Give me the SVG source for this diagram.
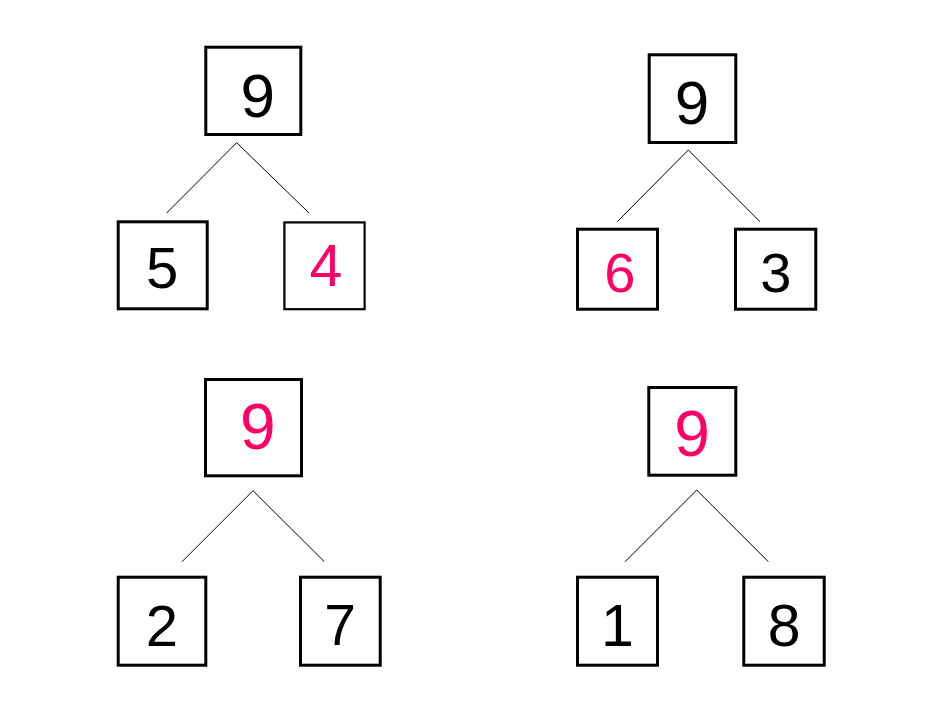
<svg xmlns="http://www.w3.org/2000/svg" width="950" height="713" viewBox="0 0 950 713">
<style>
.box{fill:#fff;stroke:#000;stroke-width:3}
.thin{stroke-width:2.2}
.t{font-family:"Liberation Sans",Arial,sans-serif;text-anchor:middle;fill:#000}
.hl{fill:#ff0066}
.edge{stroke:#000;stroke-width:1;fill:none}
</style>
<rect width="950" height="713" fill="#fff"/>
<g id="connectors">
<line class="edge" x1="236.7" y1="142.7" x2="166.7" y2="213"/>
<line class="edge" x1="236.7" y1="142.7" x2="309" y2="213"/>
<line class="edge" x1="688.3" y1="150" x2="617.3" y2="221.7"/>
<line class="edge" x1="688.3" y1="150" x2="760" y2="221.7"/>
<line class="edge" x1="253" y1="490.7" x2="182" y2="561.7"/>
<line class="edge" x1="253" y1="490.7" x2="324.3" y2="561.7"/>
<line class="edge" x1="696.7" y1="490" x2="625" y2="561.7"/>
<line class="edge" x1="696.7" y1="490" x2="768.3" y2="561.7"/>
</g>
<g id="t1-root"><rect class="box" x="205.8" y="47.2" width="95" height="87.3"/><text class="t" x="257.8" y="116.5" font-size="62">9</text></g>
<g id="t1-left"><rect class="box" x="118.2" y="221.8" width="89" height="87"/><text class="t" x="162.2" y="288" font-size="58">5</text></g>
<g id="t1-right"><rect class="box thin" x="284.4" y="222.4" width="80.2" height="86.8"/><text class="t hl" x="325.8" y="286" font-size="59">4</text></g>
<g id="t2-root"><rect class="box" x="649.2" y="54.8" width="86.6" height="87.7"/><text class="t" x="692" y="123.5" font-size="62">9</text></g>
<g id="t2-left"><rect class="box" x="577.5" y="229.2" width="80" height="80"/><text class="t hl" x="619.8" y="291.5" font-size="56">6</text></g>
<g id="t2-right"><rect class="box" x="735.5" y="229.2" width="80.3" height="80"/><text class="t" x="775.8" y="291.5" font-size="56">3</text></g>
<g id="t3-root"><rect class="box" x="205.5" y="379.5" width="96" height="96.3"/><text class="t hl" x="257.8" y="449" font-size="64">9</text></g>
<g id="t3-left"><rect class="box" x="118.2" y="577.2" width="87.6" height="88"/><text class="t" x="161.8" y="646" font-size="58">2</text></g>
<g id="t3-right"><rect class="box" x="300.5" y="577.2" width="79.7" height="88"/><text class="t" x="340" y="645.3" font-size="57">7</text></g>
<g id="t4-root"><rect class="box" x="648.8" y="387.5" width="87" height="87.7"/><text class="t hl" x="692" y="456" font-size="64">9</text></g>
<g id="t4-left"><rect class="box" x="577.5" y="577.2" width="80" height="88"/><text class="t" x="617.5" y="645.7" font-size="59">1</text></g>
<g id="t4-right"><rect class="box" x="743.8" y="577.2" width="80.4" height="88"/><text class="t" x="784.2" y="646" font-size="59">8</text></g>
</svg>
